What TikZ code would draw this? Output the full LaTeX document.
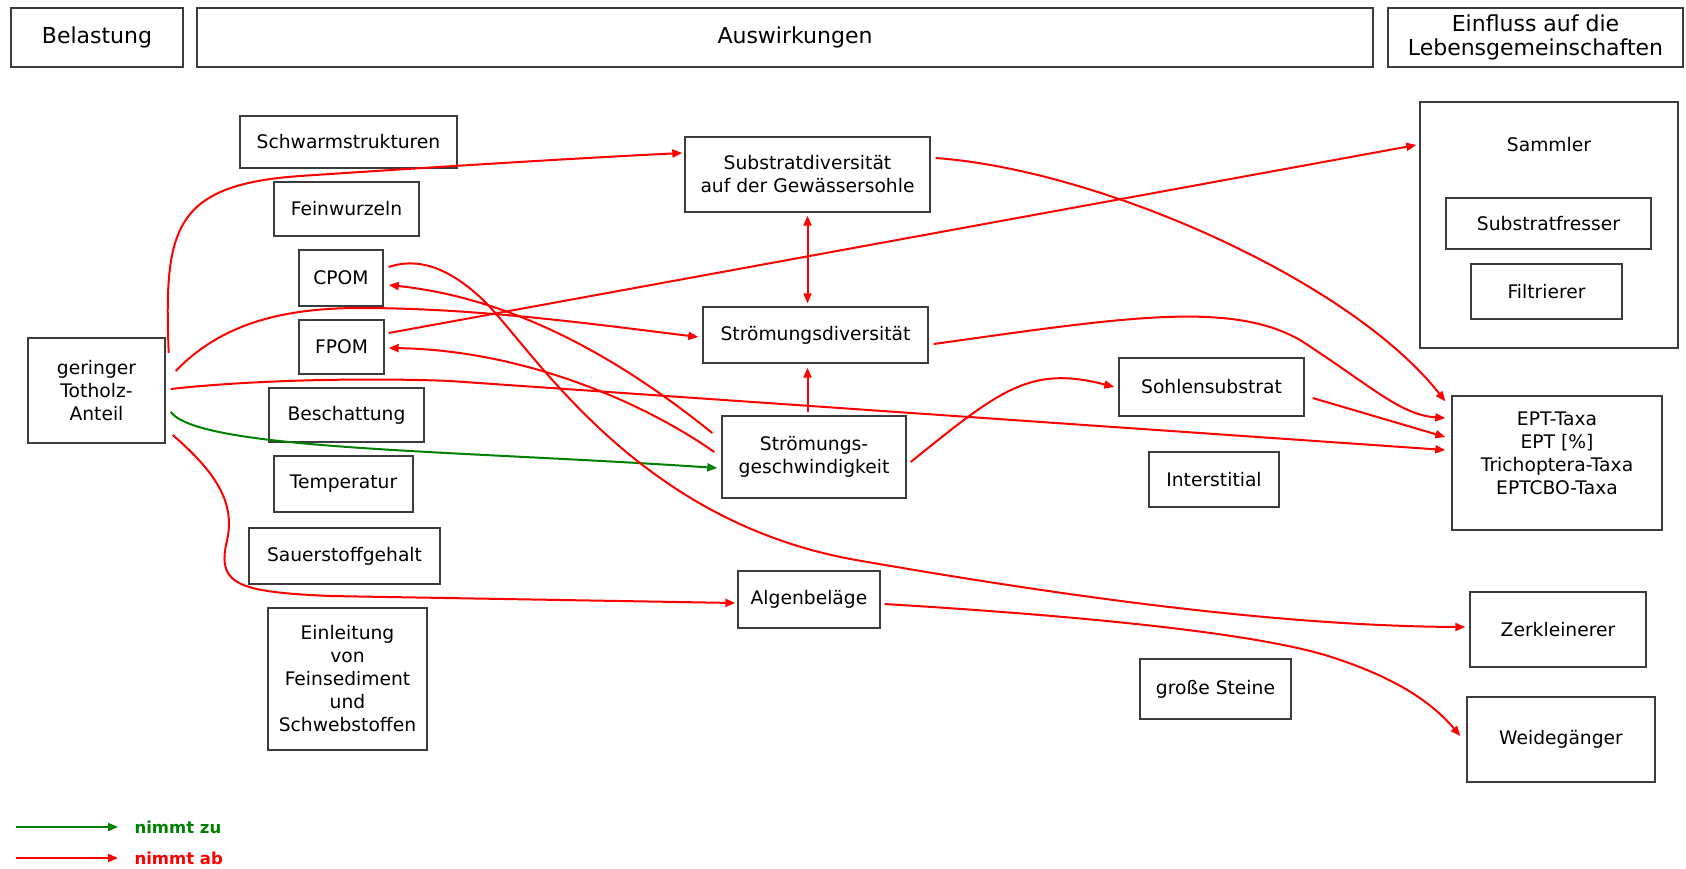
\documentclass[tikz,border=0pt]{standalone}
\usepackage{fontspec}
\setmainfont{DejaVu Sans}
\usetikzlibrary{arrows.meta,calc}

\definecolor{abrot}{RGB}{255,0,0}
\definecolor{zugruen}{RGB}{0,128,0}
\definecolor{rahmen}{RGB}{60,60,60}

\begin{document}
\begin{tikzpicture}[x=1pt, y=-1pt,
    box/.style={draw=rahmen, line width=1.4pt, inner sep=3pt, align=center,
        font=\fontsize{18.7}{23}\selectfont},
    kopf/.style={box, minimum height=59pt, font=\fontsize{22}{24}\selectfont},
    pfeilab/.style={draw=abrot, line width=2pt, -{Triangle[length=10pt,width=8pt]}},
    pfeilzu/.style={draw=zugruen, line width=2pt, -{Triangle[length=10pt,width=8pt]}},
    legende/.style={anchor=west, font=\bfseries\fontsize{16.5}{20}\selectfont}]
    \useasboundingbox (0,0) rectangle (1686,868);

    % Kopfzeile
    \node[kopf, minimum width=172pt] (bel) at (97,37.5) {Belastung};
    \node[kopf, minimum width=1176pt] (ausw) at (785,37.5) {\hspace*{20pt}Auswirkungen};
    \node[kopf, minimum width=295pt] (einfl) at (1535.5,37.5) {Einfluss auf die\\Lebensgemeinschaften};

    % Belastung
    \node[box, minimum width=137pt, minimum height=105pt] (tot) at (96.5,390.5) {geringer\\Totholz-\\Anteil};

    % linke Spalte
    \node[box, minimum width=217pt, minimum height=52pt] (schwarm) at (348.5,142) {Schwarmstrukturen};
    \node[box, minimum width=145pt, minimum height=54pt] (fein) at (346.5,209) {Feinwurzeln};
    \node[box, minimum width=84pt, minimum height=56pt] (cpom) at (341,278) {CPOM};
    \node[box, minimum width=85pt, minimum height=54pt] (fpom) at (341.5,347) {FPOM};
    \node[box, minimum width=155pt, minimum height=54pt] (besch) at (346.5,415) {Beschattung};
    \node[box, minimum width=139pt, minimum height=56pt] (temp) at (343.5,484) {Temperatur};
    \node[box, minimum width=191pt, minimum height=56pt] (sauer) at (344.5,556) {Sauerstoffgehalt};
    \node[box, minimum width=159pt, minimum height=142pt] (einl) at (347.5,679) {Einleitung\\von\\Feinsediment\\und\\Schwebstoffen};

    % Mitte
    \node[box, minimum width=245pt, minimum height=75pt] (subdiv) at (807.5,174.5) {Substratdiversität\\auf der Gewässersohle};
    \node[box, minimum width=225pt, minimum height=56pt] (strdiv) at (815.5,335) {Strömungsdiversität};
    \node[box, minimum width=184pt, minimum height=82pt] (strg) at (814,457) {Strömungs-\\geschwindigkeit};
    \node[box, minimum width=142pt, minimum height=57pt] (algen) at (809,599.5) {Algenbeläge};

    \node[box, minimum width=185pt, minimum height=58pt] (sohl) at (1211.5,387) {Sohlensubstrat};
    \node[box, minimum width=130pt, minimum height=55pt] (inter) at (1214,479.5) {Interstitial};
    \node[box, minimum width=151pt, minimum height=60pt] (steine) at (1215.5,689) {große Steine};

    % Lebensgemeinschaften
    \node[box, minimum width=258pt, minimum height=246pt,
        label={[anchor=center, yshift=-43pt, font=\fontsize{18.7}{23}\selectfont]north:Sammler}] (sammler) at (1549,225) {};
    \node[box, minimum width=205pt, minimum height=51pt] (subfr) at (1548.5,223.5) {Substratfresser};
    \node[box, minimum width=151pt, minimum height=55pt] (filtr) at (1546.5,291.5) {Filtrierer};
    \node[box, minimum width=210pt, minimum height=134pt] (ept) at (1557,463)
        {\raisebox{8pt}[\height][\depth]{\begin{tabular}{@{}c@{}}EPT-Taxa\\EPT [\%]\\Trichoptera-Taxa\\EPTCBO-Taxa\end{tabular}}};
    \node[box, minimum width=176pt, minimum height=75pt] (zerk) at (1558,629.5) {Zerkleinerer};
    \node[box, minimum width=188pt, minimum height=85pt] (weide) at (1561,739.5) {Weidegänger};

    % Wirkungen von Totholz
    \draw[pfeilab] ([xshift=3pt,yshift=37.5pt]tot.east) .. controls (164,230) and (172,185) .. (300,176)
        .. controls (450,166) and (580,158) .. ([xshift=-2pt,yshift=21.5pt]subdiv.west);
    \draw[pfeilab] ([xshift=10pt,yshift=19.5pt]tot.east) .. controls (220,325) and (280,308) .. (360,308)
        .. controls (480,308) and (600,325) .. ([xshift=-4pt,yshift=-2pt]strdiv.west);
    \draw[pfeilab] ([xshift=5pt,yshift=1.5pt]tot.east) .. controls (260,379) and (380,378) .. (450,381)
        -- ([xshift=-6pt,yshift=13pt]ept.west);
    \draw[pfeilzu] ([xshift=5pt,yshift=-21.5pt]tot.east) .. controls (200,450) and (450,450) .. ([xshift=-4pt,yshift=-11pt]strg.west);
    \draw[pfeilab] ([xshift=7pt,yshift=-44.5pt]tot.east) .. controls (225,480) and (235,510) .. (226,545)
        .. controls (218,585) and (240,592) .. (330,596) -- ([xshift=-2pt,yshift=-3.5pt]algen.west);

    % Wirkungen in der Mitte
    \draw[pfeilab, {Triangle[length=10pt,width=8pt]}-{Triangle[length=10pt,width=8pt]}, shorten <=3pt, shorten >=3pt]
        (subdiv.south) -- (subdiv.south |- strdiv.north);
    \draw[pfeilab, shorten <=3pt, shorten >=4pt] (subdiv.south |- strg.north) -- (subdiv.south |- strdiv.south);
    \draw[pfeilab] ([xshift=-9pt,yshift=24pt]strg.west) .. controls (640,375) and (530,300) .. ([xshift=5pt,yshift=-7pt]cpom.east);
    \draw[pfeilab] ([xshift=-7pt,yshift=5pt]strg.west) .. controls (640,400) and (520,350) .. ([xshift=4pt,yshift=-1pt]fpom.east);
    \draw[pfeilab] ([xshift=4pt,yshift=-5pt]strg.east) .. controls (1000,390) and (1030,365) .. ([xshift=-4pt]sohl.west);

    % Wirkungen auf die Lebensgemeinschaften
    \draw[pfeilab] ([xshift=4pt,yshift=14pt]fpom.east) -- ([xshift=-3pt,yshift=80pt]sammler.west);
    \draw[pfeilab] ([xshift=5pt,yshift=16.5pt]subdiv.east) .. controls (1100,170) and (1350,280) .. ([xshift=-6pt,yshift=-6pt]ept.north west);
    \draw[pfeilab] ([xshift=5pt,yshift=-9pt]strdiv.east) .. controls (1120,318) and (1230,300) .. (1300,340)
        .. controls (1370,385) and (1400,415) .. ([xshift=-6pt,yshift=45pt]ept.west);
    \draw[pfeilab] ([xshift=8pt,yshift=-11pt]sohl.east) -- ([xshift=-6pt,yshift=26pt]ept.west);
    \draw[pfeilab] ([xshift=5pt,yshift=11pt]cpom.east) .. controls (415,258) and (445,265) .. (480,297)
        .. controls (530,343) and (630,520) .. (856,560)
        .. controls (1000,585) and (1250,626) .. ([xshift=-4pt,yshift=2.5pt]zerk.west);
    \draw[pfeilab] ([xshift=4pt,yshift=-4.5pt]algen.east) .. controls (1050,614) and (1240,630) .. (1325,655)
        .. controls (1390,675) and (1430,700) .. ([xshift=-6pt,yshift=3.5pt]weide.west);

    % Legende
    \coordinate (lzu) at (16,827);
    \coordinate (lab) at (16,858);
    \node[legende, text=zugruen] (legzu) at (131,827) {nimmt zu};
    \node[legende, text=abrot] (legab) at (131,858) {nimmt ab};
    \draw[pfeilzu] (lzu) -- ([xshift=-13pt]legzu.west);
    \draw[pfeilab] (lab) -- ([xshift=-13pt]legab.west);
\end{tikzpicture}
\end{document}
